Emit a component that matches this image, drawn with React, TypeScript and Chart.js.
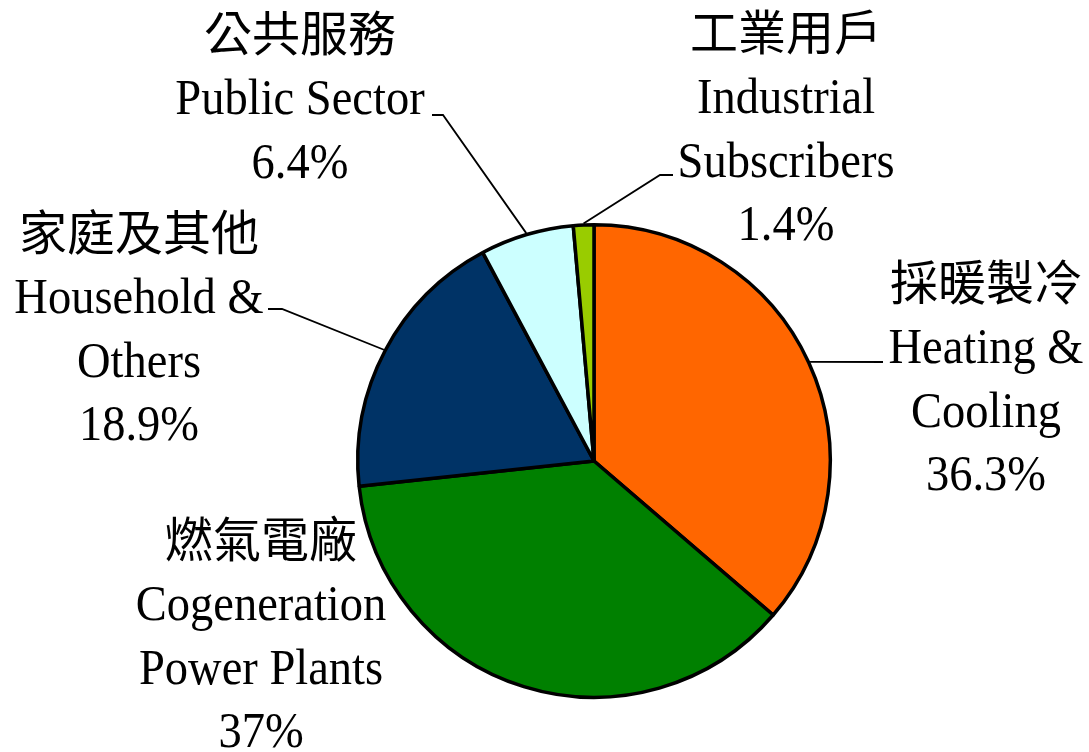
import React, { useEffect, useRef } from "react";
import { Chart, registerables } from "chart.js";

Chart.register(...registerables);

const namesZh = ["採暖製冷", "燃氣電廠", "家庭及其他", "公共服務", "工業用戶"];
const namesEn = [
  ["Heating &", "Cooling"],
  ["Cogeneration", "Power Plants"],
  ["Household &", "Others"],
  ["Public Sector"],
  ["Industrial", "Subscribers"],
];
const shares = [36.3, 37, 18.9, 6.4, 1.4];
const sliceColors = ["#FF6600", "#008000", "#003366", "#CCFFFF", "#99CC00"];

// label placement relative to pie centre (px): text centre x, baseline of first Latin line
const labelOffsets = [
  { dx: 392, dy: -98, elbow: { dx: 289, dy: -99 }, end: { dx: 289, dy: -99 } },
  { dx: -333, dy: 159, elbow: null, end: null },
  { dx: -455, dy: -148, elbow: { dx: -312, dy: -152 }, end: { dx: -326, dy: -152 } },
  { dx: -294, dy: -347, elbow: { dx: -151, dy: -346 }, end: { dx: -162, dy: -346 } },
  { dx: 192, dy: -348, elbow: { dx: 66, dy: -286 }, end: { dx: 79, dy: -286 } },
];

const LINE_PITCH = 63.5;
const LATIN_FONT = '50px "Liberation Serif", "Times New Roman", serif';
const CJK_FONT = '48px "Noto Sans CJK TC", "Noto Sans CJK SC", sans-serif';
const LATIN_SCALE_X = 0.93;

const labelPlugin = {
  id: "outerLabels",
  afterDatasetsDraw(chart: any) {
    const ctx = chart.ctx as CanvasRenderingContext2D;
    const meta = chart.getDatasetMeta(0);
    meta.data.forEach((arc: any, i: number) => {
      const { x, y, startAngle, endAngle, outerRadius } = arc.getProps(
        ["x", "y", "startAngle", "endAngle", "outerRadius"],
        true
      );
      const lay = labelOffsets[i];
      const mid = (startAngle + endAngle) / 2;
      const r = outerRadius + 1.5;
      const ex = x + Math.cos(mid) * r;
      const ey = y + Math.sin(mid) * r;

      ctx.save();
      if (lay.elbow) {
        ctx.strokeStyle = "#000";
        ctx.lineWidth = 1.8;
        ctx.beginPath();
        ctx.moveTo(ex, ey);
        ctx.lineTo(x + lay.elbow.dx, y + lay.elbow.dy);
        if (lay.end) ctx.lineTo(x + lay.end.dx, y + lay.end.dy);
        ctx.stroke();
      }

      const cx = x + lay.dx;
      const base = y + lay.dy;
      ctx.fillStyle = "#000";
      ctx.textAlign = "center";
      ctx.textBaseline = "alphabetic";

      // Chinese line
      ctx.font = CJK_FONT;
      ctx.fillText(namesZh[i], cx, base - 63);

      const lines = [...namesEn[i], `${shares[i]}%`];
      lines.forEach((t, k) => {
        ctx.save();
        ctx.translate(cx, base + k * LINE_PITCH);
        ctx.scale(LATIN_SCALE_X, 1);
        ctx.font = LATIN_FONT;
        ctx.fillText(t, 0, 0);
        ctx.restore();
      });
      ctx.restore();
    });
  },
};

export default function App() {
  const ref = useRef<HTMLCanvasElement | null>(null);
  useEffect(() => {
    if (!ref.current) return;
    const chart = new Chart(ref.current, {
      type: "pie",
      data: {
        labels: namesZh,
        datasets: [
          {
            data: shares,
            backgroundColor: sliceColors,
            borderColor: "#000000",
            borderWidth: 3.5,
          },
        ],
      },
      options: {
        responsive: false,
        animation: false,
        events: [],
        layout: { padding: { left: 356, right: 257, top: 223, bottom: 53 } },
        plugins: {
          legend: { display: false },
          tooltip: { enabled: false },
        },
      },
      plugins: [labelPlugin],
    });
    return () => chart.destroy();
  }, []);
  return (
    <div style={{ position: "fixed", left: 0, top: 0, width: 1089, height: 752, background: "#fff" }}>
      <canvas ref={ref} width={1089} height={752} style={{ width: 1089, height: 752 }} />
    </div>
  );
}
